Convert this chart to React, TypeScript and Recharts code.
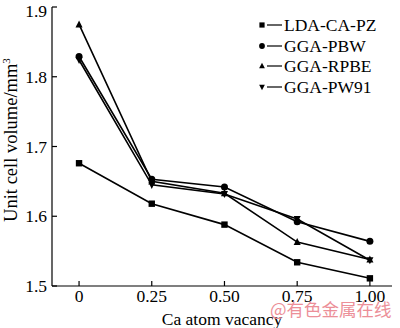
import React from 'react';
import { LineChart, Line, XAxis, YAxis, Legend } from 'recharts';

const vacancy = [0, 0.25, 0.5, 0.75, 1.0];
const ldaCaPz = [1.676, 1.618, 1.588, 1.534, 1.511];
const ggaPbw = [1.829, 1.653, 1.642, 1.592, 1.564];
const ggaRpbe = [1.875, 1.650, 1.633, 1.563, 1.538];
const ggaPw91 = [1.824, 1.645, 1.632, 1.596, 1.537];
const seriesNames = ['LDA-CA-PZ', 'GGA-PBW', 'GGA-RPBE', 'GGA-PW91'];
const seriesKeys = ['lda', 'pbw', 'rpbe', 'pw91'];
const shapes = ['square', 'circle', 'up', 'down'];
const xTicks = [0, 0.25, 0.5, 0.75, 1.0];
const xTickLabels = ['0', '0.25', '0.50', '0.75', '1.00'];
const yTicks = [1.5, 1.6, 1.7, 1.8, 1.9];

const data = vacancy.map((v, i) => ({
  x: v,
  lda: ldaCaPz[i],
  pbw: ggaPbw[i],
  rpbe: ggaRpbe[i],
  pw91: ggaPw91[i],
}));

const FONT = "'Liberation Serif', 'Times New Roman', 'DejaVu Serif', serif";

function Marker({ shape, cx, cy, s = 3.2 }: { shape: string; cx: number; cy: number; s?: number }) {
  if (shape === 'square') {
    return <rect x={cx - s} y={cy - s} width={2 * s} height={2 * s} fill="#000" />;
  }
  if (shape === 'circle') {
    return <circle cx={cx} cy={cy} r={s + 0.3} fill="#000" />;
  }
  const h = s * 1.1;
  if (shape === 'up') {
    return <polygon points={`${cx},${cy - h - 0.5} ${cx - h},${cy + h - 0.5} ${cx + h},${cy + h - 0.5}`} fill="#000" />;
  }
  return <polygon points={`${cx},${cy + h + 0.5} ${cx - h},${cy - h + 0.5} ${cx + h},${cy - h + 0.5}`} fill="#000" />;
}

const makeDot = (shape: string) => (props: any) => {
  const { cx, cy, index } = props;
  if (cx == null || cy == null) return <g key={index} />;
  return <Marker key={index} shape={shape} cx={cx} cy={cy} />;
};

const LegendContent = () => (
  <div style={{ fontFamily: FONT, fontSize: 17.5, color: '#000', lineHeight: '20.5px' }}>
    {seriesNames.map((n, i) => (
      <div key={n} style={{ display: 'flex', alignItems: 'center', height: 20.5 }}>
        <svg width={29} height={20} style={{ display: 'block' }}>
          <Marker shape={shapes[i]} cx={7} cy={10} s={2.6} />
          <line x1={12} x2={27} y1={10} y2={10} stroke="#000" strokeWidth={1.2} />
        </svg>
        <span>{n}</span>
      </div>
    ))}
  </div>
);

const YLabel = () => (
  <text
    x={17}
    y={140}
    transform="rotate(-90 17 140)"
    textAnchor="middle"
    fill="#000"
    fontSize={18.5}
    fontFamily={FONT}
  >
    Unit cell volume/mm<tspan dy={-7} fontSize={11}>3</tspan>
  </text>
);

export default function App() {
  return (
    <div style={{ position: 'absolute', left: 0, top: 0, width: 400, height: 328, background: '#fff' }}>
      <LineChart width={400} height={328} data={data} margin={{ top: 7, right: 8, left: 0, bottom: 0 }} style={{ fontFamily: FONT }}>
        <XAxis
          dataKey="x"
          type="number"
          domain={[-0.093, 1.076]}
          ticks={xTicks}
          tickFormatter={(v: number) => xTickLabels[xTicks.indexOf(v)]}
          height={42}
          tickSize={-5}
          tickMargin={9}
          axisLine={{ stroke: '#000', strokeWidth: 1.2 }}
          tickLine={{ stroke: '#000', strokeWidth: 1.2 }}
          tick={{ fill: '#000', fontSize: 17.5, fontFamily: FONT }}
          allowDataOverflow
          label={{ value: 'Ca atom vacancy', position: 'insideBottom', offset: 3, fill: '#000', fontSize: 17.5, fontFamily: FONT }}
        />
        <XAxis xAxisId="top" orientation="top" dataKey="x" type="number" domain={[-0.093, 1.076]} height={0} tick={false} tickLine={false} axisLine={{ stroke: '#000', strokeWidth: 1.2 }} />
        <YAxis
          type="number"
          domain={[1.5, 1.9]}
          ticks={yTicks}
          tickFormatter={(v: number) => v.toFixed(1)}
          width={52}
          tickSize={-5}
          tickMargin={10}
          axisLine={{ stroke: '#000', strokeWidth: 1.2 }}
          tickLine={{ stroke: '#000', strokeWidth: 1.2 }}
          tick={{ fill: '#000', fontSize: 17.5, fontFamily: FONT }}
          label={<YLabel />}
        />
        <YAxis yAxisId="right" orientation="right" domain={[1.5, 1.9]} width={0} tick={false} tickLine={false} axisLine={{ stroke: '#000', strokeWidth: 1.2 }} />
        <Legend
          layout="vertical"
          align="center"
          verticalAlign="middle"
          content={<LegendContent />}
          wrapperStyle={{ left: 255, top: 15, width: 140, height: 90 }}
        />
        {seriesKeys.map((k, i) => (
          <Line
            key={k}
            dataKey={k}
            name={seriesNames[i]}
            stroke="#000"
            strokeWidth={1.6}
            dot={makeDot(shapes[i])}
            activeDot={false}
            isAnimationActive={false}
          />
        ))}
      </LineChart>
      <div
        style={{
          position: 'absolute',
          left: 270,
          top: 299,
          fontFamily: '"Noto Sans CJK SC", sans-serif',
          fontSize: 17.5,
          lineHeight: '20px',
          color: '#ec8f98',
          whiteSpace: 'nowrap',
        }}
      >
        @有色金属在线
      </div>
    </div>
  );
}
